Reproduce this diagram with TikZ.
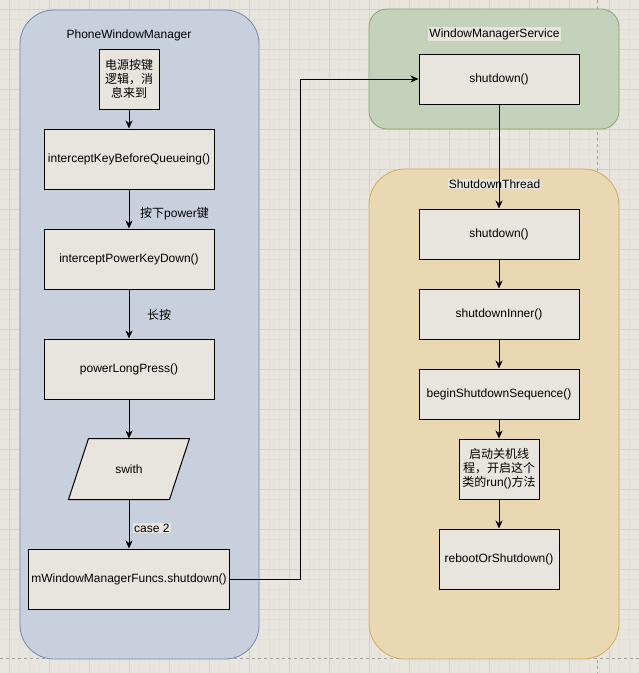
\documentclass[tikz,border=0pt]{standalone}
\usepackage{fontspec}
\setmainfont{Liberation Sans}
\newfontfamily\cjk{Noto Sans CJK SC}
\usetikzlibrary{arrows.meta}

\definecolor{canvas}{RGB}{232,228,222}
\definecolor{gridminor}{RGB}{226,222,216}
\definecolor{gridmajor}{RGB}{212,207,201}
\definecolor{pagebreak}{RGB}{160,160,160}
\definecolor{pwmfill}{RGB}{201,208,221}
\definecolor{pwmline}{RGB}{112,138,180}
\definecolor{wmsfill}{RGB}{196,210,187}
\definecolor{wmsline}{RGB}{132,166,104}
\definecolor{stfill}{RGB}{233,216,177}
\definecolor{stline}{RGB}{204,172,92}
\definecolor{boxfill}{RGB}{232,228,222}

\tikzset{
  every node/.style={font=\fontsize{12}{14}\selectfont},
  group/.style={rectangle, draw, line width=0.8pt, inner sep=0pt},
  fnbox/.style={rectangle, draw=black, fill=boxfill, line width=1pt, align=center, inner sep=0pt},
  arr/.style={draw=black, line width=1pt, -{Stealth[length=8pt,width=7pt,inset=2.5pt]}},
  minorgrid/.style={gridminor, line width=0.5pt},
  majorgrid/.style={gridmajor, line width=0.8pt},
}

\begin{document}
\begin{tikzpicture}[x=1pt, y=-1pt]
\useasboundingbox (0,0) rectangle (639,673);
\fill[canvas] (0,0) rectangle (639,673);
% grid
\foreach \g in {9,19,...,639} {
  \draw[minorgrid] (\g,0) -- (\g,673);
  \draw[minorgrid] (0,\g) -- (639,\g);
}
\foreach \g in {9,49,...,639} {
  \draw[majorgrid] (\g,0) -- (\g,673);
  \draw[majorgrid] (0,\g) -- (639,\g);
}
\draw[pagebreak, dashed, line width=0.8pt] (597,0) -- (597,673);
\draw[pagebreak, dashed, line width=0.8pt] (0,658) -- (639,658);

% containers
\node[group, draw=pwmline, fill=pwmfill, rounded corners=34pt, minimum width=239pt, minimum height=649pt] (pwm) at (139.5,334.5) {};
\node[group, draw=wmsline, fill=wmsfill, rounded corners=18pt, minimum width=250pt, minimum height=120pt] (wms) at (494,69) {};
\node[group, draw=stline, fill=stfill, rounded corners=36pt, minimum width=250pt, minimum height=490pt] (st) at (494,414) {};
\node (pwmtitle) at (129,35) {PhoneWindowManager};
\node[fill=boxfill, inner sep=1pt] (wmstitle) at (494.5,34) {WindowManagerService};
\node[fill=boxfill, inner sep=1pt] (sttitle) at (494.5,184) {ShutdownThread};

% PhoneWindowManager
\node[fnbox, minimum width=60pt, minimum height=60pt] (powerkey) at (129,79) {\cjk 电源按键\\\cjk 逻辑，消\\\cjk 息来到};
\node[fnbox, minimum width=170pt, minimum height=60pt] (beforequeue) at (129,159) {interceptKeyBeforeQueueing()};
\node[fnbox, minimum width=170pt, minimum height=60pt] (keydown) at (129,259) {interceptPowerKeyDown()};
\node[fnbox, minimum width=170pt, minimum height=60pt] (longpress) at (129,369) {powerLongPress()};
% parallelogram, slanted by 10 each side
\node[fnbox, draw=none, fill=none, minimum width=100pt, minimum height=60pt] (swith) at (129,469) {};
\draw[fill=boxfill, line width=1pt] ([xshift=-10pt]swith.south west) -- ([xshift=10pt]swith.north west)
  -- ([xshift=10pt]swith.north east) -- ([xshift=-10pt]swith.south east) -- cycle;
\node at (swith.center) {swith};
\node[fnbox, minimum width=201pt, minimum height=60pt] (funcs) at (129,579) {mWindowManagerFuncs.shutdown()};

% WindowManagerService / ShutdownThread
\node[fnbox, minimum width=160pt, minimum height=50pt] (wmsdown) at (499,79) {shutdown()};
\node[fnbox, minimum width=160pt, minimum height=50pt] (stdown) at (499,234) {shutdown()};
\node[fnbox, minimum width=160pt, minimum height=50pt] (inner) at (499,314) {shutdownInner()};
\node[fnbox, minimum width=160pt, minimum height=50pt] (sequence) at (499,394) {beginShutdownSequence()};
\node[fnbox, minimum width=80pt, minimum height=60pt] (runthread) at (499,469) {\cjk 启动关机线\\\cjk 程，开启这个\\{\cjk 类的}run(){\cjk 方法}};
\node[fnbox, minimum width=120pt, minimum height=60pt] (reboot) at (499,559) {rebootOrShutdown()};

% edges
\draw[arr] (powerkey) -- (beforequeue);
\draw[arr] (beforequeue) -- (keydown);
\node[anchor=west, inner sep=0pt] (lblpress) at (140,214) {{\cjk 按下}power{\cjk 键}};
\draw[arr] (keydown) -- (longpress);
\node[inner sep=0pt] (lbllong) at (159,315) {\cjk 长按};
\draw[arr] (longpress) -- (swith);
\draw[arr] (swith) -- (funcs);
\node[anchor=west, fill=boxfill, inner sep=1pt] (lblcase) at (133,528) {case 2};
\draw[arr] (funcs.east) -- ++(70,0) |- (wmsdown.west);
\draw[arr] (wmsdown) -- (stdown);
\draw[arr] (stdown) -- (inner);
\draw[arr] (inner) -- (sequence);
\draw[arr] (sequence) -- (runthread);
\draw[arr] (runthread) -- (reboot);
\end{tikzpicture}
\end{document}
